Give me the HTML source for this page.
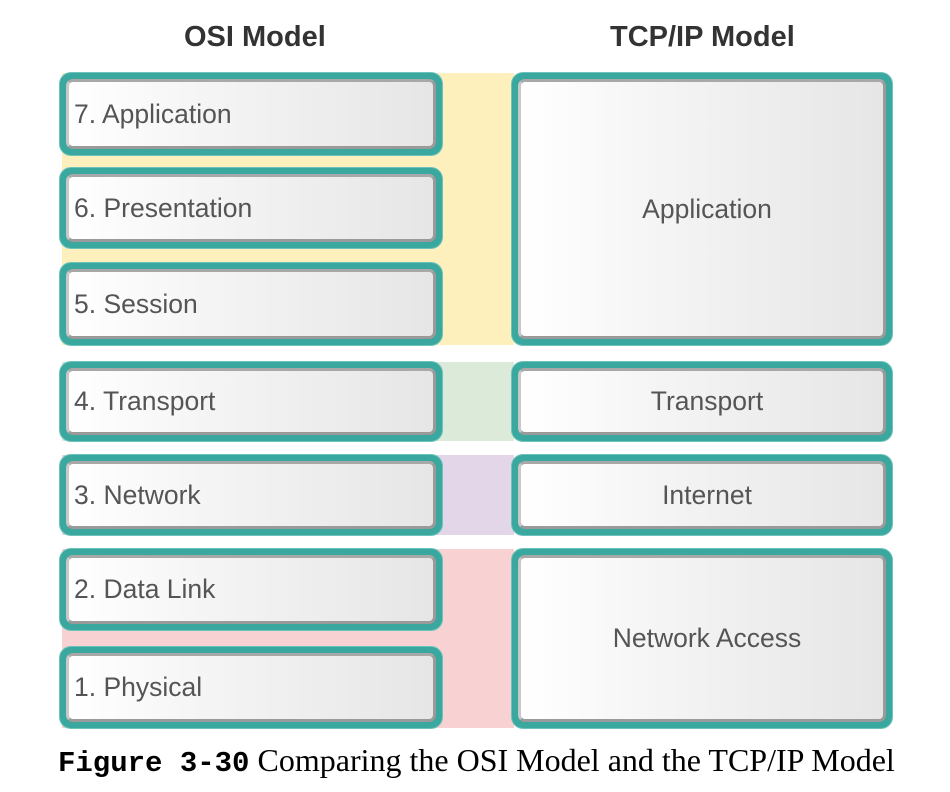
<!DOCTYPE html>
<html><head><style>
body{margin:0;width:950px;height:792px;background:#fff;position:relative;overflow:hidden;font-family:"Liberation Sans",sans-serif}
.band{position:absolute}
.b{position:absolute;box-sizing:border-box;border:4px solid #3aa89f;border-radius:11px;background:#3aa89f;box-shadow:0 0 0 1px #6cc3bb}
.b>div{position:absolute;left:2px;top:2px;right:2px;bottom:2px;border-radius:7px;border:3px solid #9a9a9a;border-left-color:#c8c8c8;border-top-color:#a8a8a8;background:linear-gradient(90deg,#fff 0%,#f4f4f4 40%,#e6e6e6 100%);display:flex;align-items:center;font-size:26.5px;color:#555;box-sizing:border-box}
.l>div{padding-left:5px}
.r>div{justify-content:center;padding-left:10px}
.h{position:absolute;top:21px;font-weight:bold;font-size:29px;color:#333}
</style></head><body>
<div class="h" style="left:184px">OSI Model</div>
<div class="h" style="left:610px">TCP/IP Model</div>
<div class="band" style="left:62px;top:73px;width:452px;height:272px;background:#fdf0bd"></div>
<div class="band" style="left:62px;top:362px;width:452px;height:79px;background:#dcebd9"></div>
<div class="band" style="left:62px;top:455px;width:452px;height:80px;background:#e2d6e8"></div>
<div class="band" style="left:62px;top:549px;width:452px;height:179px;background:#f8d2d2"></div>

<div class="b l" style="left:60px;top:73px;width:382px;height:82px"><div>7. Application</div></div>
<div class="b l" style="left:60px;top:168px;width:382px;height:80px"><div>6. Presentation</div></div>
<div class="b l" style="left:60px;top:263px;width:382px;height:82px"><div>5. Session</div></div>
<div class="b l" style="left:60px;top:362px;width:382px;height:79px"><div>4. Transport</div></div>
<div class="b l" style="left:60px;top:455px;width:382px;height:80px"><div>3. Network</div></div>
<div class="b l" style="left:60px;top:549px;width:382px;height:81px"><div>2. Data Link</div></div>
<div class="b l" style="left:60px;top:647px;width:382px;height:81px"><div>1. Physical</div></div>

<div class="b r" style="left:512px;top:73px;width:380px;height:272px"><div>Application</div></div>
<div class="b r" style="left:512px;top:362px;width:380px;height:79px"><div>Transport</div></div>
<div class="b r" style="left:512px;top:455px;width:380px;height:80px"><div>Internet</div></div>
<div class="b r" style="left:512px;top:549px;width:380px;height:179px"><div>Network Access</div></div>

<div style="position:absolute;left:58px;top:742px;white-space:nowrap;font-size:29px;color:#000"><span style="font-family:'Liberation Mono',monospace;font-weight:bold">Figure 3-30</span> <span style="font-family:'Liberation Serif',serif;font-size:32px">Comparing the OSI Model and the TCP/IP Model</span></div>
</body></html>
